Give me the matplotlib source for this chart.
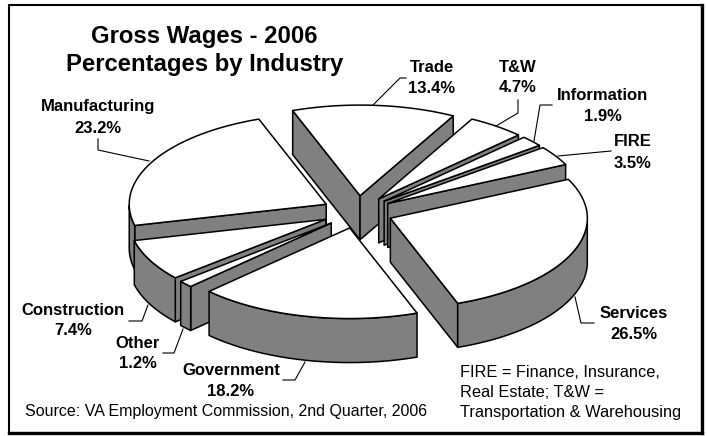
import numpy as np
import matplotlib
matplotlib.use('Agg')
import matplotlib.pyplot as plt
from matplotlib.patches import Polygon, Rectangle

plt.rcParams['font.family'] = ['Liberation Sans', 'DejaVu Sans']

# clockwise from the Trade slice
industries = ['Trade', 'T&W', 'Information', 'FIRE', 'Services', 'Government', 'Other', 'Construction', 'Manufacturing']
shares = [13.4, 4.7, 1.9, 3.5, 26.5, 18.2, 1.2, 7.4, 23.2]
draw_order = ['Trade', 'T&W', 'Information', 'FIRE', 'Manufacturing', 'Construction', 'Other', 'Services', 'Government']

title_lines = ['Gross Wages - 2006', 'Percentages by Industry']
source_note = 'Source: VA Employment Commission, 2nd Quarter, 2006'
abbrev_notes = ['FIRE = Finance, Insurance,', 'Real Estate; T&W =', 'Transportation & Warehousing']

# pie projection, in pixels
cx, cy = 357.5, 212.0
rx = 197.0
squash = 0.46
explode = 35.5
depth = 44.0
start_angle = -20.0

# label centres (name y, value y) and leader lines
label_pos = {
    'Trade': (432, 67, 88.5),
    'T&W': (518, 67, 88),
    'Information': (603, 95, 116),
    'FIRE': (633, 141, 163),
    'Services': (634, 313.5, 334),
    'Government': (231, 370, 391),
    'Other': (138, 343, 363),
    'Construction': (73, 310, 330),
    'Manufacturing': (98, 106, 128),
}
leaders = {
    'Trade': [(373, 105), (400, 78), (406, 78)],
    'T&W': [(496, 126), (518, 113), (518, 100)],
    'Information': [(534, 141), (540, 105), (552, 105)],
    'FIRE': [(558, 156), (611, 151)],
    'Services': [(575, 297), (581, 323), (594, 323)],
    'Government': [(305, 362), (295, 380), (283, 380)],
    'Other': [(183, 329), (174, 353), (163, 353)],
    'Construction': [(148, 305), (142, 321), (129, 321)],
    'Manufacturing': [(149, 161), (98, 150), (98, 139)],
}

GREY = '#808080'
LW = 1.1


def project(angle, radius, ax0, ay0):
    a = np.radians(angle)
    return ax0 + radius * np.sin(a), ay0 - radius * squash * np.cos(a)


fig = plt.figure(figsize=(7.07, 4.36), dpi=100)
ax = fig.add_axes([0, 0, 1, 1])
ax.set_xlim(0, 707)
ax.set_ylim(436, 0)
ax.axis('off')

# frame, heavier on the right and bottom
ax.add_patch(Rectangle((9, 5), 693, 428, fc='white', ec='black', lw=1.5, zorder=0))
ax.plot([702, 702], [5, 433], color='black', lw=2.4, zorder=0.5, solid_capstyle='projecting')
ax.plot([9, 702], [433, 433], color='black', lw=2.4, zorder=0.5, solid_capstyle='projecting')

edges = np.cumsum([0] + shares) / sum(shares) * 360 + start_angle
slices = {}
for i, name in enumerate(industries):
    slices[name] = (edges[i], edges[i + 1])

z = 1
for name in draw_order:
    a0, a1 = slices[name]
    mid = (a0 + a1) / 2
    ax0, ay0 = project(mid, explode, cx, cy)
    arc = np.linspace(a0, a1, 80)
    ox, oy = project(arc, rx, ax0, ay0)

    # radial walls that face the viewer
    walls = []
    if np.sin(np.radians(a0)) < 0:
        walls.append(a0)
    if np.sin(np.radians(a1)) > 0:
        walls.append(a1)
    for w in walls:
        ex, ey = project(w, rx, ax0, ay0)
        ax.add_patch(Polygon([(ax0, ay0), (ex, ey), (ex, ey + depth), (ax0, ay0 + depth)],
                             fc=GREY, ec='black', lw=LW, joinstyle='round', zorder=z))
        z += 1

    # outer wall on the front half
    front = arc[np.cos(np.radians(arc)) < 0]
    if len(front) > 1:
        fx, fy = project(front, rx, ax0, ay0)
        pts = np.column_stack([np.r_[fx, fx[::-1]], np.r_[fy, fy[::-1] + depth]])
        ax.add_patch(Polygon(pts, fc=GREY, ec='black', lw=LW, joinstyle='round', zorder=z))
        z += 1

    # top face
    pts = np.column_stack([np.r_[ax0, ox], np.r_[ay0, oy]])
    ax.add_patch(Polygon(pts, fc='white', ec='black', lw=LW, joinstyle='round', zorder=z))
    z += 1

for name, share in zip(industries, shares):
    pts = np.array(leaders[name])
    ax.plot(pts[:, 0], pts[:, 1], color='black', lw=0.8, zorder=z)
    x, y0, y1 = label_pos[name]
    ax.text(x, y0, name, ha='center', va='center', fontsize=12, fontweight='bold', zorder=z + 1)
    ax.text(x, y1, f'{share:.1f}%', ha='center', va='center', fontsize=12, fontweight='bold', zorder=z + 1)

ax.text(204.5, 36.5, title_lines[0], ha='center', va='center', fontsize=17.2, fontweight='bold', zorder=z + 1)
ax.text(204.5, 64.5, title_lines[1], ha='center', va='center', fontsize=17.2, fontweight='bold', zorder=z + 1)

ax.text(25, 411, source_note, ha='left', va='center', fontsize=11.55, zorder=z + 1)
for yy, line in zip([372, 392, 412], abbrev_notes):
    ax.text(460, yy, line, ha='left', va='center', fontsize=11.8, zorder=z + 1)

fig.savefig('out.png', dpi=100)
